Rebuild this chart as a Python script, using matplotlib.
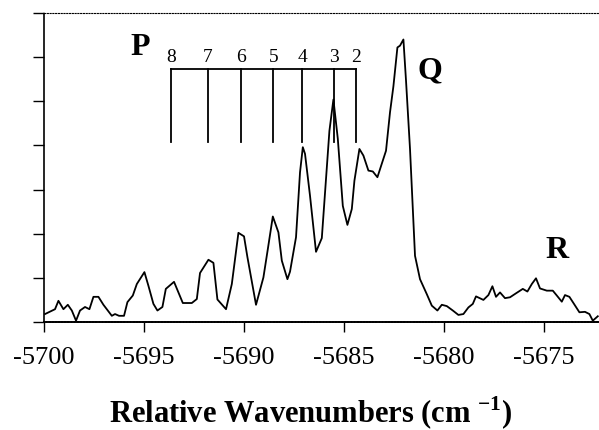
import matplotlib.pyplot as plt

plt.rcParams['font.family'] = ['Liberation Serif', 'DejaVu Serif']
plt.rcParams['mathtext.fontset'] = 'custom'
plt.rcParams['mathtext.rm'] = 'Liberation Serif'
plt.rcParams['mathtext.bf'] = 'Liberation Serif:bold'
plt.rcParams['axes.unicode_minus'] = False

# spectrum (relative wavenumber, intensity in tick units)
wavenumber = [
    -5699.95, -5699.45, -5699.28, -5699.03, -5698.81, -5698.61, -5698.40, -5698.20,
    -5697.95, -5697.73, -5697.53, -5697.28, -5697.03, -5696.61, -5696.45, -5696.25,
    -5696.00, -5695.83, -5695.56, -5695.36, -5694.98, -5694.78, -5694.53, -5694.33,
    -5694.08, -5693.91, -5693.50, -5693.06, -5692.61, -5692.36, -5692.20, -5691.78,
    -5691.53, -5691.33, -5690.90, -5690.61, -5690.28, -5690.00, -5689.83, -5689.40,
    -5689.03, -5688.81, -5688.56, -5688.28, -5688.11, -5687.83, -5687.70, -5687.40,
    -5687.20, -5687.06, -5686.95, -5686.70, -5686.40, -5686.11, -5685.73, -5685.53,
    -5685.31, -5685.06, -5684.83, -5684.61, -5684.48, -5684.23, -5684.03, -5683.78,
    -5683.56, -5683.33, -5682.90, -5682.70, -5682.53, -5682.33, -5682.20, -5682.03,
    -5681.90, -5681.70, -5681.45, -5681.20, -5680.86, -5680.61, -5680.33, -5680.11,
    -5679.86, -5679.56, -5679.28, -5679.03, -5678.78, -5678.56, -5678.40, -5678.03,
    -5677.78, -5677.58, -5677.40, -5677.20, -5676.95, -5676.70, -5676.40, -5676.06,
    -5675.83, -5675.61, -5675.40, -5675.20, -5674.86, -5674.56, -5674.36, -5674.11,
    -5673.95, -5673.73, -5673.50, -5673.23, -5672.95, -5672.73, -5672.56, -5672.31,
]
intensity = [
    0.18, 0.29, 0.48, 0.29, 0.39, 0.26, 0.03, 0.26,
    0.34, 0.29, 0.57, 0.57, 0.39, 0.14, 0.18, 0.14,
    0.14, 0.45, 0.60, 0.86, 1.13, 0.82, 0.41, 0.26,
    0.34, 0.75, 0.91, 0.43, 0.43, 0.52, 1.11, 1.41,
    1.34, 0.51, 0.29, 0.86, 2.02, 1.94, 1.47, 0.39,
    1.01, 1.65, 2.39, 2.03, 1.39, 0.97, 1.14, 1.92,
    3.39, 3.96, 3.81, 2.86, 1.59, 1.90, 4.33, 5.04,
    4.15, 2.63, 2.20, 2.56, 3.20, 3.92, 3.77, 3.43,
    3.41, 3.28, 3.88, 4.75, 5.34, 6.22, 6.26, 6.40,
    5.47, 3.92, 1.50, 0.97, 0.63, 0.37, 0.26, 0.39,
    0.36, 0.26, 0.16, 0.18, 0.33, 0.41, 0.58, 0.50,
    0.61, 0.81, 0.57, 0.67, 0.54, 0.56, 0.65, 0.75,
    0.69, 0.86, 0.99, 0.76, 0.71, 0.71, 0.60, 0.46,
    0.61, 0.57, 0.41, 0.22, 0.23, 0.18, 0.03, 0.13,
]

# P-branch assignment comb
p_labels = ['8', '7', '6', '5', '4', '3', '2']
p_positions = [-5693.65, -5691.82, -5690.17, -5688.54, -5687.09, -5685.52, -5684.40]
comb_top = 5.73
comb_bottom = 4.08

fig = plt.figure(figsize=(5.99, 4.31), dpi=100)
ax = fig.add_axes([0.0735, 0.2506, 0.9265, 0.7169])

ax.plot(wavenumber, intensity, color='black', lw=1.3)

# comb
ax.plot([p_positions[0], p_positions[-1]], [comb_top, comb_top], color='black', lw=1.3)
for pos, lab in zip(p_positions, p_labels):
    ax.plot([pos, pos], [comb_bottom, comb_top], color='black', lw=1.3)
    ax.text(pos, comb_top + 0.1, lab, ha='center', va='bottom', fontsize=14)

ax.text(-5695.2, 6.23, 'P', ha='center', va='center', fontsize=23, fontweight='bold')
ax.text(-5680.7, 5.7, 'Q', ha='center', va='center', fontsize=23, fontweight='bold')
ax.text(-5674.35, 1.65, 'R', ha='center', va='center', fontsize=23, fontweight='bold')

ax.set_xlim(-5700, -5672.25)
ax.set_ylim(0, 7)
ax.set_xticks([-5700, -5695, -5690, -5685, -5680, -5675])
ax.set_yticks(range(0, 8))
ax.set_yticklabels([])
ax.tick_params(axis='x', direction='out', length=7, width=1, labelsize=19, pad=10)
ax.tick_params(axis='y', direction='out', length=8, width=1)

ax.spines['right'].set_visible(False)
ax.spines['top'].set_linestyle((0, (1, 1.5)))
ax.spines['top'].set_linewidth(0.8)
ax.spines['left'].set_linestyle((0, (1, 1)))
ax.spines['left'].set_linewidth(1.2)
ax.spines['bottom'].set_linestyle((0, (1, 0.6)))
ax.spines['bottom'].set_linewidth(1.4)

xl = ax.set_xlabel(r'Relative Wavenumbers (cm $^{\mathbf{-1}}$)', fontsize=22, fontweight='bold', labelpad=19)
xl.set_x(0.48)

fig.savefig('out.png', dpi=100)
